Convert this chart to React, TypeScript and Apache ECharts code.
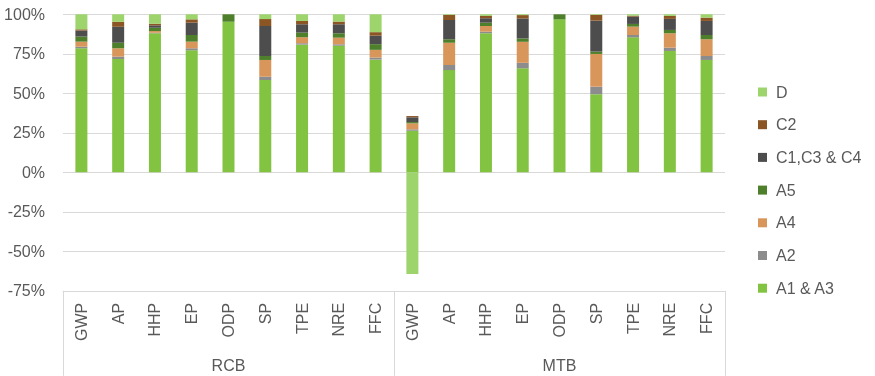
import React, { useEffect, useRef } from "react";
import * as echarts from "echarts";

const indicators = ["GWP", "AP", "HHP", "EP", "ODP", "SP", "TPE", "NRE", "FFC"];
const groups = ["RCB", "MTB"];
const categories = [...indicators, ...indicators];

const seriesNames = ["A1 & A3", "A2", "A4", "A5", "C1,C3 & C4", "C2", "D"];
const colors = ["#82C341", "#8C8C8C", "#D9965B", "#4E7F2A", "#4D4D4D", "#8B5524", "#9DD46C"];

const a1a3 = [78.5, 71.7, 88, 77.2, 95.3, 58.4, 80.8, 80.1, 71.3, 26.3, 64.7, 88, 65.8, 96.8, 49.4, 85.4, 76.8, 71.1];
const a2 = [1, 1.5, 0.3, 1.3, 0, 2.1, 0.9, 0.9, 1.3, 0.9, 3.2, 1, 3.5, 0, 4.8, 1.5, 2.1, 2.5];
const a4 = [3.2, 5.3, 1.1, 4.2, 0, 10.6, 3.8, 4.2, 4.9, 3.8, 14.1, 3.6, 13.3, 0, 20.7, 5.3, 9.1, 10.6];
const a5 = [3.2, 3.5, 2.1, 4.2, 4.7, 2.5, 2.9, 2.8, 3.6, 0.8, 2.2, 2.1, 2.1, 3.2, 1.5, 1.7, 2.1, 2.7];
const c134 = [3.8, 10.1, 1.5, 7.8, 0, 19, 5.3, 5.7, 5.4, 3, 12.2, 2.8, 12.7, 0, 19.6, 4.6, 7, 8.9];
const c2 = [0.8, 3.2, 1, 2.1, 0, 4.4, 2.1, 1.7, 2.2, 0.8, 3.2, 1.5, 2.1, 0, 3.6, 0.6, 1.9, 2.1];
const d = [9.5, 4.7, 6, 3.2, 0, 3, 4.2, 4.6, 11.3, -64.4, 0.4, 1.0, 0.5, 0, 0.4, 0.9, 1.0, 2.1];

const seriesData = [a1a3, a2, a4, a5, c134, c2, d];

const FONT = "'Liberation Sans', Arial, sans-serif";
const TEXT = "#595959";
const LINE = "#D9D9D9";

export default function App() {
  const ref = useRef<HTMLDivElement>(null);
  useEffect(() => {
    if (!ref.current) return;
    const chart = echarts.init(ref.current, null, { renderer: "svg" });
    chart.setOption({
      animation: false,
      textStyle: { fontFamily: FONT },
      grid: { left: 63, right: 150, top: 14.3, bottom: 85.2, containLabel: false },
      legend: {
        orient: "vertical",
        left: 753,
        top: 79,
        itemWidth: 9,
        itemHeight: 9,
        itemGap: 16.7,
        icon: "rect",
        data: [...seriesNames].reverse(),
        textStyle: { fontSize: 16, color: TEXT, fontFamily: FONT, padding: [0, 0, 0, 4] },
      },
      xAxis: [
        {
          type: "category",
          data: categories,
          position: "bottom",
          axisLine: { show: true, onZero: false, lineStyle: { color: LINE } },
          axisTick: { show: false },
          axisLabel: { rotate: 90, interval: 0, margin: 12, fontSize: 16, color: TEXT, fontFamily: FONT },
        },
        {
          type: "category",
          data: groups,
          position: "bottom",
          axisLine: { show: false, onZero: false },
          axisTick: { show: true, length: 85, interval: 0, lineStyle: { color: LINE } },
          axisLabel: { interval: 0, margin: 67, fontSize: 16, color: TEXT, fontFamily: FONT },
        },
      ],
      yAxis: {
        type: "value",
        min: -75,
        max: 100,
        interval: 25,
        axisLine: { show: false },
        axisTick: { show: false },
        splitLine: { lineStyle: { color: LINE } },
        axisLabel: { formatter: "{value}%", margin: 18, fontSize: 16, color: TEXT, fontFamily: FONT },
      },
      series: seriesNames.map((name, i) => ({
        name,
        type: "bar",
        stack: "total",
        barWidth: 12,
        xAxisIndex: 0,
        itemStyle: { color: colors[i] },
        data: seriesData[i],
      })),
    });
    return () => chart.dispose();
  }, []);
  return <div ref={ref} style={{ position: "fixed", left: 0, top: 0, width: 875, height: 376 }} />;
}
